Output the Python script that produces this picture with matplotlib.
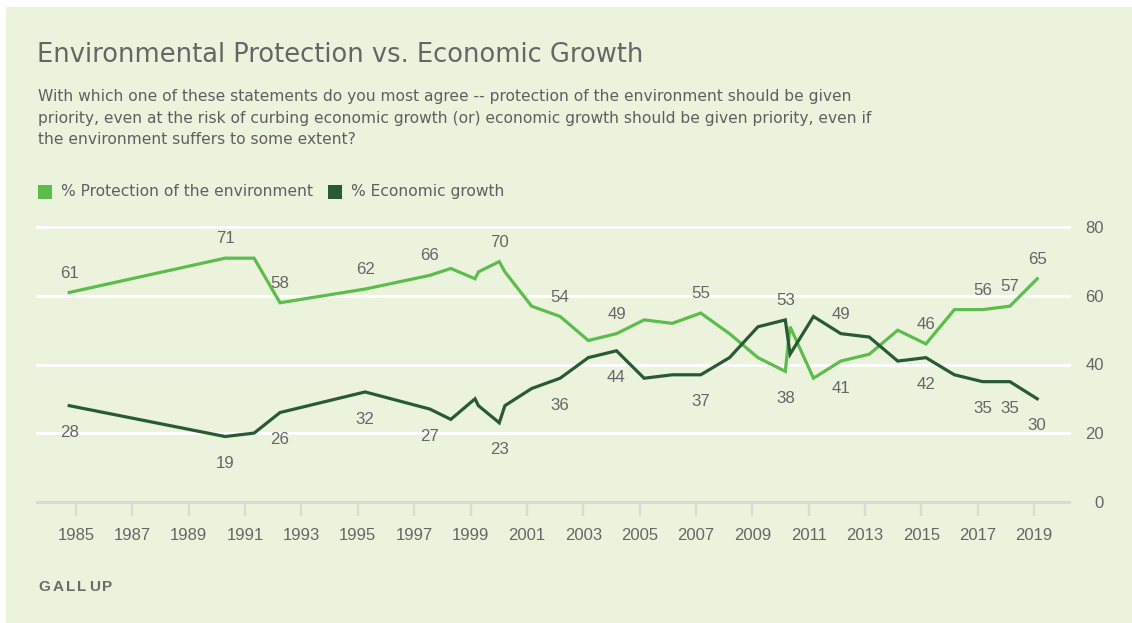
import matplotlib
matplotlib.use("Agg")
import matplotlib.pyplot as plt
from matplotlib.patches import Rectangle

# ---- data ----
dates = [1984.76, 1990.29, 1991.32, 1992.24, 1995.26, 1997.56, 1998.30, 1999.16, 1999.28,
         2000.02, 2000.22, 2001.17, 2002.18, 2003.18, 2004.18, 2005.16, 2006.16, 2007.17,
         2008.19, 2009.20, 2010.17, 2010.34, 2011.17, 2012.14, 2013.15, 2014.16, 2015.16,
         2016.17, 2017.17, 2018.14, 2019.11]
env = [61, 71, 71, 58, 62, 66, 68, 65, 67, 70, 67, 57, 54, 47, 49, 53, 52, 55, 49, 42,
       38, 51, 36, 41, 43, 50, 46, 56, 56, 57, 65]
econ = [28, 19, 20, 26, 32, 27, 24, 30, 28, 23, 28, 33, 36, 42, 44, 36, 37, 37, 42, 51,
        53, 43, 54, 49, 48, 41, 42, 37, 35, 35, 30]
labeled = [0, 1, 3, 4, 5, 9, 12, 14, 17, 20, 23, 26, 28, 29, 30]
xticks = list(range(1985, 2020, 2))
yticks = [0, 20, 40, 60, 80]

series_names = ["% Protection of the environment", "% Economic growth"]
title = "Environmental Protection vs. Economic Growth"
subtitle = ("With which one of these statements do you most agree -- protection of the environment should be given\n"
            "priority, even at the risk of curbing economic growth (or) economic growth should be given priority, even if\n"
            "the environment suffers to some extent?")
source = "GALLUP"

# ---- style ----
BG = "#ebf3dd"
LIGHT = "#5dbd4c"
DARK = "#285b33"
TXT = "#666666"
AXC = "#d8dbd6"
FONT = ["Liberation Sans", "DejaVu Sans"]
WIDE = ["DejaVu Sans"]
plt.rcParams["font.family"] = FONT

W, H = 1132, 623
fig = plt.figure(figsize=(W / 100, H / 100), dpi=100)
fig.patch.set_facecolor("white")
fig.add_artist(Rectangle((6 / W, 0), 1 - 6 / W, 1 - 7 / H, transform=fig.transFigure,
                         facecolor=BG, edgecolor="none", zorder=-10))

def fx(px):
    return px / W

def fy(py):
    return 1 - py / H

ax_left, ax_right = 37, 1069
ax_top, ax_bot = 227.3, 501.7
ax = fig.add_axes([fx(ax_left), fy(ax_bot), (ax_right - ax_left) / W, (ax_bot - ax_top) / H])
ax.set_facecolor("none")
ppy = 28.18
ax.set_xlim(1985 + (ax_left - 76) / ppy, 1985 + (ax_right - 76) / ppy)
ax.set_ylim(0, 80)

for s in ["top", "right", "left"]:
    ax.spines[s].set_visible(False)
ax.spines["bottom"].set_color(AXC)
ax.spines["bottom"].set_linewidth(2.2)
ax.spines["bottom"].set_zorder(1)

for yv in yticks[1:]:
    ax.axhline(yv, color="white", lw=2.2, zorder=0.5, clip_on=False)

ax.set_xticks(xticks)
ax.set_xticklabels([str(x) for x in xticks])
ax.tick_params(axis="x", length=10, width=1.6, color=AXC, pad=9, labelsize=12, labelcolor=TXT)
ax.yaxis.tick_right()
ax.set_yticks(yticks)
ax.set_yticklabels([str(y) for y in yticks])
ax.tick_params(axis="y", length=0, pad=25.2, labelsize=12, labelcolor=TXT)
for lab in ax.get_yticklabels():
    lab.set_ha("right")

ax.plot(dates, env, color=LIGHT, lw=2.3, zorder=3, solid_joinstyle="miter")
ax.plot(dates, econ, color=DARK, lw=2.3, zorder=4, solid_joinstyle="miter")

for i in labeled:
    hi, lo = (env[i], econ[i]) if env[i] >= econ[i] else (econ[i], env[i])
    ax.annotate(str(hi), (dates[i], hi), xytext=(0, 14), textcoords="offset points",
                ha="center", va="center", fontsize=12.2, color=TXT, zorder=5, annotation_clip=False)
    ax.annotate(str(lo), (dates[i], lo), xytext=(0, -19.5), textcoords="offset points",
                ha="center", va="center", fontsize=12.2, color=TXT, zorder=5, annotation_clip=False)

# ---- texts ----
fig.text(fx(37), fy(62), title, fontsize=18.5, color=TXT, ha="left", va="baseline",
         family=WIDE)
fig.text(fx(38), fy(89), subtitle, fontsize=11.2, color="#5f5f5f", ha="left", va="top",
         linespacing=1.56, family=WIDE)

fig.add_artist(Rectangle((fx(38), fy(199)), 14 / W, 14 / H, transform=fig.transFigure,
                         facecolor=LIGHT, edgecolor="none"))
fig.text(fx(61), fy(192), series_names[0], fontsize=11.2, color="#5f5f5f", ha="left",
         va="center", family=WIDE)
fig.add_artist(Rectangle((fx(328), fy(199)), 14 / W, 14 / H, transform=fig.transFigure,
                         facecolor=DARK, edgecolor="none"))
fig.text(fx(351), fy(192), series_names[1], fontsize=11.2, color="#5f5f5f", ha="left",
         va="center", family=WIDE)

# letter-spaced source label
renderer = fig.canvas.get_renderer()
xpos = 38.0
for ch in source:
    t = fig.text(fx(xpos), fy(587), ch, fontsize=11, color="#6a6a6a", ha="left", va="center",
                 fontweight="bold")
    bb = t.get_window_extent(renderer=renderer)
    xpos += bb.width + 2.4

fig.savefig("out.png", dpi=100, facecolor=fig.get_facecolor())
